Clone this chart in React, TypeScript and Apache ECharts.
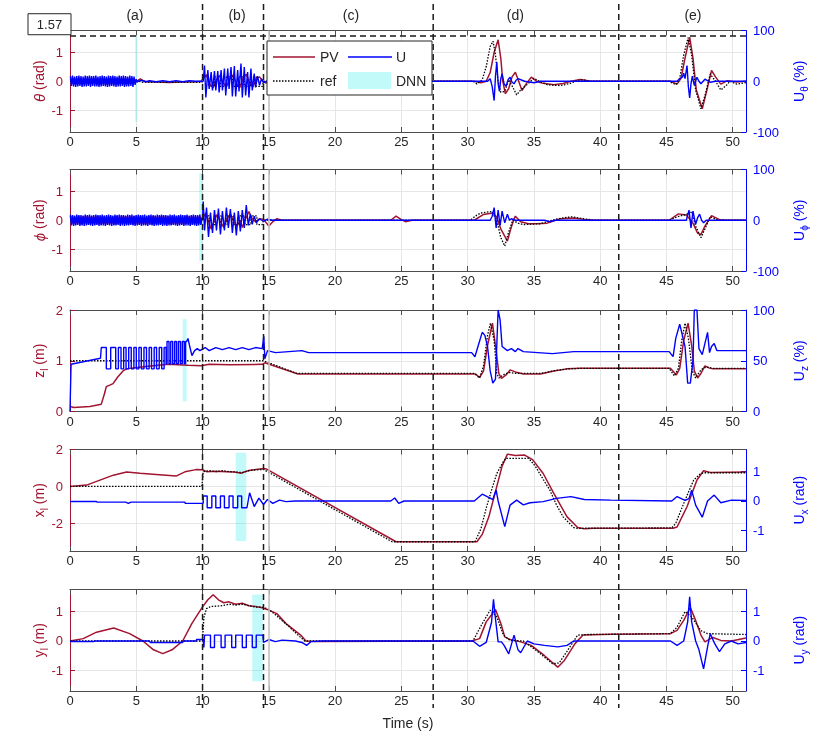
import React, { useEffect, useRef } from 'react';
import * as echarts from 'echarts';

const RED = '#A2142F';
const BLUE = '#0000FF';
const FONT = '"Liberation Sans", Arial, Helvetica, sans-serif';

// ---------- axes / annotations ----------
const xTicks = [0, 5, 10, 15, 20, 25, 30, 35, 40, 45, 50];
const xMax = 51;
const phaseBounds = [10.0, 14.6, 27.4, 41.4];
const phaseLabels = ['(a)', '(b)', '(c)', '(d)', '(e)'];
const phaseLabelT = [4.9, 12.6, 21.2, 33.6, 47.0];
const thetaLimit = 1.57;
const grayLineT = 15;

const leftNames = ['{i|θ} (rad)', '{i|ϕ} (rad)', 'z{s|l} (m)', 'x{s|l} (m)', 'y{s|l} (m)'];
const rightNames = ['U{s|θ} (%)', 'U{s|ϕ} (%)', 'U{s|z} (%)', 'U{s|x} (rad)', 'U{s|y} (rad)'];
const leftMin = [-1.75, -1.75, 0, -3.5, -1.7];
const leftMax = [1.75, 1.75, 2, 2, 1.75];
const leftTicks = [[-1, 0, 1], [-1, 0, 1], [0, 1, 2], [-2, 0, 2], [-1, 0, 1]];
const rightMin = [-100, -100, 0, -1.7, -1.7];
const rightMax = [100, 100, 100, 1.75, 1.75];
const rightTicks = [[-100, 0, 100], [-100, 0, 100], [0, 50, 100], [-1, 0, 1], [-1, 0, 1]];

// DNN windows (per subplot, left-axis units)
const dnnT0 = [4.92, 9.75, 8.5, 12.5, 13.75];
const dnnT1 = [5.08, 10.0, 8.8, 13.3, 14.55];
const dnnLow = [-1.4, -1.4, 0.2, -2.96, -1.37];
const dnnHigh = [1.55, 1.62, 1.82, 1.83, 1.58];

// ---------- theta ----------
const denseStart = 0.03;
const denseStep = 0.08;
const thetaU_dense = [10, -9, 11, -10, 9, -11, 10, -10, 11, -9,
  10, -11, 9, -10, 11, -10, 10, -9, 11, -11,
  10, -9, 10, -10, 11, -10, 9, -11, 10, -10,
  11, -9, 10, -10, 9, -11, 11, -10, 10, -9,
  11, -10, 10, -11, 9, -10, 11, -10, 10, -9,
  11, -11, 10, -10, 9, -10, 11, -9, 10, -11,
  9, -7, 4, -2];
const thetaPV_dense = [0.08, -0.1, 0.12, -0.09, 0.1, -0.12, 0.11, -0.1, 0.12, -0.08,
  0.1, -0.12, 0.09, -0.1, 0.12, -0.11, 0.1, -0.09, 0.12, -0.12,
  0.1, -0.09, 0.11, -0.1, 0.12, -0.1, 0.09, -0.12, 0.11, -0.1,
  0.12, -0.09, 0.1, -0.11, 0.09, -0.12, 0.12, -0.1, 0.1, -0.09,
  0.12, -0.1, 0.11, -0.12, 0.09, -0.1, 0.12, -0.11, 0.1, -0.09,
  0.12, -0.12, 0.1, -0.1, 0.09, -0.1, 0.11, -0.09, 0.1, -0.11,
  0.08, -0.06, 0.04, -0.02];
const thetaPV_rest = [[5.1, 0.02], [5.3, 0.08], [5.5, 0.03], [5.8, -0.02], [6.5, -0.03], [7.5, -0.04], [8.5, -0.03], [9.5, -0.02], [9.9, 0.0],
  [10.05, 0.1], [10.3, 0.22], [10.55, -0.1], [10.8, -0.22], [11.05, 0.05], [11.3, 0.2], [11.55, -0.05], [11.8, -0.2], [12.05, 0.08], [12.3, 0.22], [12.55, -0.08], [12.8, -0.22], [13.05, 0.1], [13.3, 0.24], [13.55, -0.05], [13.8, -0.2], [14.05, 0.1], [14.3, 0.15], [14.55, 0.0], [14.8, -0.06], [15.2, 0.02], [15.6, 0],
  [20, 0.0], [25, 0.0], [30.5, 0], [31.0, -0.05], [31.4, 0.0], [31.7, 0.3], [32.0, 1.0], [32.3, 1.43], [32.5, 0.8], [32.65, 0.0], [32.85, -0.43], [33.1, -0.25], [33.35, 0.15], [33.6, 0.31], [33.85, 0.0], [34.1, -0.32], [34.4, -0.1], [34.8, 0.14], [35.2, 0.0], [35.6, -0.06], [36.5, -0.12], [37.2, -0.08], [37.8, 0.0], [38.5, 0.06], [39.2, 0.01], [40, 0],
  [45.3, 0], [45.8, -0.1], [46.1, 0.1], [46.4, 0.8], [46.75, 1.52], [47.0, 0.8], [47.25, -0.3], [47.7, -0.95], [48.0, -0.4], [48.4, 0.37], [48.7, 0.15], [49.1, -0.1], [49.6, 0.02], [50.3, -0.03], [51, 0]];
const thetaRef = [[0, 0], [5.2, 0], [5.5, -0.04], [9.95, -0.04], [10.05, 0.15], [10.45, 0.15], [10.45, -0.18], [10.9, -0.18], [10.9, 0.15], [11.35, 0.15], [11.35, -0.18], [11.8, -0.18], [11.8, 0.15], [12.25, 0.15], [12.25, -0.18], [12.7, -0.18], [12.7, 0.15], [13.15, 0.15], [13.15, -0.18], [13.6, -0.18], [13.6, 0.15], [14.05, 0.15], [14.05, -0.18], [14.5, -0.18], [14.6, 0],
  [30.4, 0], [30.7, -0.09], [31.1, 0.05], [31.4, 0.5], [31.7, 1.2], [31.92, 1.38], [32.1, 0.9], [32.3, 0.0], [32.5, -0.38], [32.8, -0.35], [33.1, 0.05], [33.4, -0.2], [33.7, -0.47], [34.0, -0.3], [34.4, -0.15], [35.0, 0.1], [35.4, 0.0], [36.0, -0.12], [37.0, -0.15], [37.7, -0.08], [38.3, 0.03], [38.7, 0.05], [39.3, 0],
  [45.2, 0], [45.7, -0.12], [46.0, 0.1], [46.3, 0.9], [46.63, 1.5], [46.9, 0.9], [47.2, -0.3], [47.6, -0.95], [47.9, -0.5], [48.3, 0.25], [48.7, 0.0], [49.1, -0.3], [49.5, -0.15], [49.8, 0.0], [50.3, -0.1], [51, -0.05]];
const thetaU_rest = [[5.15, 0], [5.4, 2], [5.7, -1], [6.0, 1], [6.5, -1], [7.0, 1], [7.5, -1], [8.0, 1], [8.5, -1], [9.0, 1], [9.5, 0], [9.95, 0],
  [10.05, 0], [10.15, 31], [10.25, -32], [10.4, 22], [10.5, -15], [10.65, 18], [10.75, -18], [10.9, 20], [11.0, -18], [11.15, 20], [11.25, -22], [11.4, 22], [11.5, -18], [11.65, 25], [11.75, -28], [11.9, 25], [12.0, -15], [12.15, 28], [12.25, -30], [12.4, 30], [12.5, -30], [12.65, 22], [12.75, -20], [12.9, 35], [13.0, -32], [13.15, 28], [13.25, -28], [13.4, 18], [13.5, -32], [13.65, 25], [13.75, -18], [13.9, 15], [14.0, -12], [14.15, 10], [14.3, -8], [14.45, 5], [14.6, -3], [14.8, 0],
  [20, 0], [31.5, 0], [31.7, 5], [31.85, -10], [32.0, -38], [32.1, 10], [32.2, 38], [32.3, -5], [32.4, -20], [32.5, 5], [32.6, 15], [32.75, -5], [32.9, -10], [33.05, 3], [33.2, 8], [33.35, -2], [33.5, -5], [33.65, 2], [33.8, 5], [34.3, 0], [35, -3], [35.5, 0],
  [45.8, 0], [46.0, 5], [46.2, 8], [46.3, 16], [46.4, 5], [46.55, 31], [46.65, -10], [46.75, -33], [46.85, -5], [46.95, 10], [47.1, -8], [47.3, 8], [47.45, 0], [47.6, -5], [47.9, 4], [48.3, -2], [48.7, 0], [51, 0]];

// ---------- phi ----------
const phiU_dense = [11, -10, 10, -11, 9, -10, 11, -9, 10, -11,
  10, -10, 9, -11, 11, -10, 10, -9, 11, -10,
  9, -11, 10, -10, 11, -9, 10, -11, 10, -10,
  11, -10, 9, -11, 10, -9, 11, -10, 10, -11,
  9, -10, 11, -10, 10, -9, 11, -11, 10, -10,
  10, -11, 9, -10, 11, -10, 10, -9, 11, -10,
  9, -11, 10, -10, 11, -9, 10, -11, 10, -10,
  11, -10, 9, -11, 10, -9, 11, -10, 10, -11,
  9, -10, 11, -10, 10, -9, 11, -11, 10, -10,
  10, -11, 9, -10, 11, -10, 10, -9, 11, -10,
  9, -11, 10, -10, 11, -9, 10, -11, 10, -10,
  11, -10, 9, -11, 10, -9, 11, -10, 10, -11,
  10, -10, 11, -9, 5];
const phiPV_dense = [0.14, -0.13, 0.15, -0.14, 0.12, -0.15, 0.14, -0.12, 0.15, -0.14,
  0.13, -0.15, 0.14, -0.13, 0.15, -0.12, 0.14, -0.15, 0.13, -0.14,
  0.15, -0.13, 0.12, -0.15, 0.14, -0.14, 0.15, -0.12, 0.13, -0.15,
  0.14, -0.13, 0.15, -0.14, 0.12, -0.15, 0.14, -0.13, 0.15, -0.12,
  0.13, -0.15, 0.14, -0.14, 0.15, -0.13, 0.12, -0.15, 0.14, -0.13,
  0.15, -0.12, 0.14, -0.15, 0.13, -0.14, 0.15, -0.13, 0.12, -0.15,
  0.14, -0.14, 0.15, -0.12, 0.13, -0.15, 0.14, -0.13, 0.15, -0.14,
  0.12, -0.15, 0.14, -0.13, 0.15, -0.12, 0.13, -0.15, 0.14, -0.14,
  0.15, -0.13, 0.12, -0.15, 0.14, -0.13, 0.15, -0.12, 0.14, -0.15,
  0.13, -0.14, 0.15, -0.13, 0.12, -0.15, 0.14, -0.14, 0.15, -0.12,
  0.13, -0.15, 0.14, -0.13, 0.15, -0.14, 0.12, -0.15, 0.14, -0.13,
  0.15, -0.12, 0.13, -0.15, 0.14, -0.14, 0.15, -0.13, 0.12, -0.15,
  0.14, -0.13, 0.15, -0.12, 0.05];
const phiPV_rest = [[10.05, 0.1], [10.25, 0.25], [10.5, -0.1], [10.65, -0.3], [10.9, 0.0], [11.1, 0.2], [11.35, -0.05], [11.6, -0.25], [11.85, 0.05], [12.1, 0.22], [12.35, -0.05], [12.6, -0.2], [12.85, 0.0], [13.0, -0.25], [13.25, 0.05], [13.5, 0.3], [13.75, 0.05], [14.0, -0.05], [14.3, 0.05], [14.6, 0.03], [15.0, -0.2], [15.3, -0.05], [15.6, 0.05], [16.0, 0],
  [24.2, 0], [24.6, 0.14], [25.0, 0.02], [25.3, -0.05], [25.8, 0],
  [30.5, 0], [31.2, 0.2], [31.9, 0.25], [32.2, 0.1], [32.5, -0.3], [33.0, -0.72], [33.25, -0.3], [33.5, 0.05], [33.6, 0.14], [34.0, -0.05], [34.6, -0.12], [35.2, -0.12], [36.0, -0.1], [37.0, 0.05], [38.0, 0.08], [38.8, 0.03], [39.5, 0],
  [45.2, 0], [45.9, 0.22], [46.5, 0.18], [47.0, -0.1], [47.35, -0.45], [47.6, -0.49], [47.9, -0.2], [48.4, 0.16], [49.0, 0.02], [49.5, 0], [51, 0]];
const phiRef = [[0, 0], [9.95, 0], [10.05, 0.15], [10.5, 0.15], [10.5, -0.15], [10.95, -0.15], [10.95, 0.15], [11.4, 0.15], [11.4, -0.15], [11.85, -0.15], [11.85, 0.15], [12.3, 0.15], [12.3, -0.15], [12.75, -0.15], [12.75, 0.15], [13.2, 0.15], [13.2, -0.15], [13.65, -0.15], [13.65, 0.15], [14.1, 0.15], [14.1, -0.15], [14.5, -0.15], [14.6, 0],
  [30.2, 0], [30.6, 0.15], [31.0, 0.25], [31.8, 0.3], [32.2, 0.0], [32.5, -0.6], [32.8, -0.89], [33.1, -0.4], [33.4, 0.0], [33.8, -0.1], [34.2, -0.15], [35.5, -0.12], [36.2, -0.02], [36.8, 0.05], [37.8, 0.12], [38.8, 0.05], [39.5, 0],
  [45.2, 0], [45.8, 0.12], [46.5, 0.2], [46.9, 0.3], [47.2, -0.2], [47.6, -0.6], [47.9, -0.3], [48.3, 0.12], [48.8, 0.02], [49.5, 0], [51, 0]];
const phiU_rest = [[10.0, 0], [10.05, 37], [10.15, -20], [10.3, 25], [10.45, -33], [10.6, 15], [10.75, -25], [10.9, 20], [11.05, -20], [11.2, 23], [11.35, -28], [11.5, 18], [11.65, -20], [11.8, 25], [11.95, -15], [12.1, 22], [12.25, -25], [12.4, 15], [12.55, -30], [12.7, 18], [12.85, -22], [13.0, 20], [13.15, -15], [13.3, 30], [13.45, -10], [13.6, 12], [13.75, -8], [13.9, 8], [14.05, -5], [14.3, 3], [14.6, -2], [14.9, 2], [15.3, 0],
  [31.7, 0], [31.85, 8], [32.0, 25], [32.15, -15], [32.3, 20], [32.45, -10], [32.6, 18], [32.8, -5], [33.0, 12], [33.15, 0], [33.3, 3], [33.6, 0], [35.8, 0], [36.2, -3], [36.6, 0],
  [46.5, 0], [46.7, 20], [46.85, -15], [47.0, 18], [47.2, -8], [47.35, 5], [47.5, 12], [47.65, 0], [47.8, -5], [48.0, 0], [51, 0]];

// ---------- z ----------
const zPV = [[0, 0.1], [0.3, 0.08], [1.5, 0.1], [2.36, 0.145], [2.6, 0.35], [2.74, 0.49], [3.0, 0.52], [3.25, 0.55], [3.6, 0.68], [4.0, 0.8], [4.26, 0.84], [4.9, 0.86], [5.9, 0.89], [7.4, 0.93], [8.9, 0.91], [9.9, 0.9], [10.5, 0.93], [12, 0.92], [14.5, 0.93], [14.7, 0.96], [17.2, 0.74],
  [30.6, 0.74], [30.9, 0.67], [31.2, 0.8], [31.5, 1.3], [31.87, 1.74], [32.15, 1.2], [32.35, 0.75], [32.55, 0.65], [32.9, 0.72], [33.2, 0.82], [33.6, 0.78], [34.2, 0.74], [35.5, 0.74], [36.5, 0.8], [37.5, 0.84], [38.5, 0.85],
  [45.3, 0.85], [45.75, 0.72], [46.0, 0.85], [46.3, 1.4], [46.63, 1.74], [46.9, 1.3], [47.1, 0.8], [47.35, 0.66], [47.6, 0.75], [47.9, 0.9], [48.2, 0.86], [48.5, 0.84], [51, 0.84]];
const zRef = [[0, 1], [14.6, 1], [17.1, 0.75], [30.5, 0.75], [30.9, 0.66], [31.2, 0.9], [31.5, 1.5], [31.72, 1.74], [32.0, 1.4], [32.2, 0.75], [32.35, 0.66], [32.8, 0.74], [33.2, 0.77], [33.6, 0.75], [35.5, 0.75], [36.5, 0.8], [37.5, 0.84], [38.5, 0.85],
  [45.2, 0.85], [45.6, 0.7], [45.9, 0.85], [46.15, 1.4], [46.4, 1.74], [46.65, 1.45], [46.95, 0.8], [47.2, 0.66], [47.6, 0.82], [48.0, 0.88], [48.5, 0.85], [51, 0.85]];
const zU = [[0, 0], [0.08, 46.6], [1.0, 49], [2.3, 52.5], [2.36, 63], [2.74, 63], [2.74, 42], [3.07, 42], [3.07, 63], [3.45, 63], [3.45, 42], [3.65, 42], [3.65, 63], [3.85, 63], [3.85, 42], [4.05, 42], [4.05, 63], [4.23, 63], [4.23, 42], [4.43, 42], [4.43, 63], [4.62, 63], [4.62, 42], [4.82, 42], [4.82, 63], [5.0, 63], [5.0, 42], [5.2, 42], [5.2, 63], [5.38, 63], [5.38, 42], [5.58, 42], [5.58, 63], [5.77, 63], [5.77, 42], [5.97, 42], [5.97, 63], [6.15, 63], [6.15, 42], [6.35, 42], [6.35, 63], [6.53, 63], [6.53, 42], [6.73, 42], [6.73, 63], [6.92, 63], [6.92, 42], [7.1, 42], [7.1, 63], [7.25, 63], [7.25, 47],
  [7.32, 47], [7.32, 69], [7.47, 69], [7.47, 47], [7.6, 47], [7.6, 69], [7.75, 69], [7.75, 47], [7.9, 47], [7.9, 69], [8.04, 69], [8.04, 47], [8.18, 47], [8.18, 69], [8.33, 69], [8.33, 47], [8.47, 47], [8.47, 69], [8.62, 69], [8.62, 47], [8.72, 47], [8.72, 69],
  [8.8, 69], [8.9, 72], [9.0, 66], [9.2, 55], [9.4, 60], [9.6, 62], [9.8, 60], [10.2, 63], [10.5, 60], [11, 63], [11.5, 61], [12, 63], [12.5, 61], [13, 63], [13.5, 61], [14, 63], [14.5, 62], [14.62, 74], [14.7, 52], [14.9, 60], [15.5, 58], [17.5, 60], [18, 58], [20, 58], [25, 58],
  [30.3, 58], [30.55, 54], [30.8, 65], [31.1, 78], [31.3, 75], [31.5, 64], [31.7, 40], [31.9, 28], [32.1, 32], [32.3, 100], [32.45, 90], [32.6, 64], [33, 60], [33.3, 62], [33.6, 59], [33.8, 62], [34.2, 59], [36.4, 57], [38, 59],
  [45.2, 59], [45.5, 54], [45.7, 72], [46.0, 86], [46.4, 64], [46.6, 28], [46.8, 28], [47.0, 50], [47.1, 100], [47.3, 100], [47.45, 62], [47.7, 56], [48.1, 78], [48.25, 58], [48.4, 64], [48.6, 67], [48.8, 60], [49.5, 60], [51, 60]];

// ---------- x ----------
const xPV = [[0, 0], [1.25, 0.07], [2.26, 0.34], [3.27, 0.61], [4.27, 0.78], [5.28, 0.71], [6.5, 0.65], [8.0, 0.56], [8.67, 0.79], [9.5, 0.91], [10.0, 0.9], [10.3, 0.8], [11.0, 0.82], [11.8, 0.8], [12.4, 0.78], [12.9, 0.71], [13.3, 0.82], [13.6, 0.88], [14.6, 0.97], [14.8, 0.95], [24.6, -3.0],
  [30.7, -3.0], [31.1, -2.6], [31.6, -1.65], [32.2, 0.0], [32.6, 1.1], [33.0, 1.75], [33.6, 1.67], [34.3, 1.7], [34.9, 1.45], [35.7, 0.7], [36.5, -0.38], [37.5, -1.65], [38.3, -2.23], [38.8, -2.3], [39.5, -2.27],
  [45.5, -2.27], [45.8, -2.2], [46.55, -1.1], [47.3, 0.35], [47.8, 0.85], [48.3, 0.76], [51, 0.78]];
const xRef = [[0, 0], [9.95, 0], [10.05, 0.8], [10.5, 0.85], [11, 0.8], [11.5, 0.85], [12, 0.8], [12.5, 0.78], [13, 0.75], [13.5, 0.85], [14, 0.9], [14.6, 0.92], [24.3, -3.0],
  [30.55, -3.0], [31.0, -2.3], [31.43, -1.1], [31.8, -0.2], [32.2, 0.7], [32.7, 1.35], [32.9, 1.52], [34.6, 1.52], [35.1, 1.1], [35.6, 0.5], [36.2, -0.2], [36.7, -1.0], [37.2, -1.65], [38.0, -2.23], [38.3, -2.27],
  [45.4, -2.25], [45.7, -2.0], [46.3, -0.92], [47.05, 0.34], [47.5, 0.65], [47.8, 0.74], [51, 0.74]];
const xU = [[0, -0.02], [2.0, -0.02], [2.05, -0.04], [4.2, -0.04], [4.4, -0.08], [4.6, -0.04], [8.65, -0.04], [8.7, -0.08], [10.05, -0.08],
  [10.05, 0.17], [10.35, 0.17], [10.35, -0.23], [10.7, -0.23], [10.7, 0.17], [11.0, 0.17], [11.0, -0.23], [11.35, -0.23], [11.35, 0.17], [11.65, 0.17], [11.65, -0.23], [12.0, -0.23], [12.0, 0.17], [12.3, 0.17], [12.3, -0.23], [12.65, -0.23], [12.65, 0.17], [12.95, 0.17], [12.95, -0.23], [13.35, -0.23],
  [13.55, 0.28], [13.9, -0.19], [14.25, 0.1], [14.6, -0.12], [14.9, 0.05], [15.3, -0.08], [15.8, 0.03], [16.3, -0.02], [17, 0], [24.2, 0], [24.5, 0.1], [24.8, -0.08], [25.2, 0],
  [30.5, 0], [31.1, 0.23], [31.7, 0.1], [31.9, 0.05], [32.15, 0.37], [32.3, 0.0], [32.8, -0.87], [33.2, -0.14], [33.7, 0.03], [34.2, -0.13], [34.7, -0.06], [35.7, -0.02], [36.7, 0.09], [37.8, 0.15], [38.8, 0.05], [40.8, 0.03],
  [45.4, 0.0], [45.8, 0.15], [46.4, 0.02], [46.7, 0.08], [46.9, 0.37], [47.2, -0.14], [47.7, -0.55], [48.1, 0.0], [48.6, 0.2], [49.1, -0.06], [49.9, 0.03], [51, 0.02]];

// ---------- y ----------
const yPV = [[0, 0], [1, 0.08], [2, 0.3], [3.3, 0.44], [4.5, 0.25], [5.5, 0.0], [6.3, -0.3], [7.0, -0.43], [7.7, -0.3], [8.5, 0.0], [9.2, 0.6], [10.0, 1.16], [10.4, 1.4], [10.8, 1.57], [11.2, 1.4], [11.6, 1.3], [12.0, 1.33], [12.5, 1.25], [13.0, 1.28], [13.5, 1.2], [14.0, 1.17], [14.5, 1.13], [15.0, 1.05], [15.6, 0.93], [16.3, 0.59], [17.4, 0.2], [17.8, 0.0], [18.5, -0.02],
  [30.3, 0], [30.9, 0.08], [31.4, 0.65], [32.1, 1.07], [32.5, 0.6], [32.8, 0.14], [33.2, 0.05], [34.0, -0.03], [34.8, -0.15], [35.8, -0.5], [36.8, -0.89], [37.3, -0.66], [38.1, -0.09], [38.7, 0.2], [40.8, 0.23],
  [45.3, 0.25], [45.8, 0.36], [46.3, 0.7], [46.8, 1.14], [47.2, 0.7], [47.6, 0.2], [47.9, -0.03], [48.5, 0.12], [49.1, 0.02], [49.9, 0.0], [51, 0.1]];
const yRef = [[0, 0], [10.0, 0], [10.1, 0.8], [10.3, 1.1], [10.6, 1.17], [11.5, 1.2], [12, 1.25], [12.5, 1.22], [13, 1.25], [13.5, 1.2], [14, 1.15], [14.5, 1.15], [15.0, 1.08], [15.6, 0.85], [16.5, 0.5], [17.2, 0.2], [17.7, 0.0],
  [30.4, 0], [31.1, 0.59], [31.7, 1.05], [32.2, 0.82], [32.7, 0.2], [33.2, 0.02], [34.2, 0.0], [35.2, -0.33], [36.4, -0.77], [36.9, -0.75], [37.5, -0.35], [38.3, 0.2], [39.1, 0.22],
  [45.3, 0.25], [45.8, 0.47], [46.4, 1.0], [46.9, 0.82], [47.6, 0.35], [48.1, 0.25], [51, 0.22]];
const yU = [[0, -0.02], [1.8, -0.02], [1.85, 0.0], [6.0, 0.0], [6.05, -0.05], [8.5, -0.05], [8.55, 0.0], [9.5, 0.0], [9.55, 0.05], [10.05, 0.05], [10.1, -0.22], [10.15, -0.22],
  [10.15, 0.2], [10.6, 0.2], [10.6, -0.22], [10.9, -0.22], [10.9, 0.2], [11.4, 0.2], [11.4, -0.22], [11.7, -0.22], [11.7, 0.2], [12.2, 0.2], [12.2, -0.22], [12.5, -0.22], [12.5, 0.2], [13.0, 0.2], [13.0, -0.22], [13.3, -0.22], [13.3, 0.2], [13.75, 0.2], [13.75, -0.22], [14.05, -0.22], [14.05, 0.2], [14.55, 0.2],
  [14.6, -0.05], [15, 0.05], [15.5, -0.02], [16, 0.03], [17, 0], [17.5, -0.05], [17.85, -0.15], [18.2, -0.02], [19, 0],
  [30.4, 0], [30.9, -0.18], [31.4, -0.05], [31.8, 0.63], [31.95, 1.42], [32.1, 0.75], [32.3, -0.03], [32.55, -0.03], [32.75, -0.15], [33.1, -0.44], [33.5, 0.2], [33.8, -0.3], [34.0, -0.4], [34.5, 0.0], [35.0, -0.1], [35.8, -0.15], [36.8, -0.2], [37.5, -0.15], [38.0, 0.0], [39.8, 0.0],
  [45.3, 0], [45.8, -0.15], [46.3, 0.0], [46.6, 0.65], [46.75, 1.5], [46.9, 0.65], [47.2, 0.0], [47.45, -0.3], [47.8, -0.95], [48.1, -0.2], [48.3, 0.25], [48.65, -0.1], [49.0, -0.36], [49.4, -0.1], [49.9, 0.0], [50.4, -0.1], [51, -0.05]];

// ---------- helpers ----------
function densePairs(values: number[]) {
  return values.map((v, i) => [+(denseStart + i * denseStep).toFixed(3), v]);
}

const pvData = [
  densePairs(thetaPV_dense).concat(thetaPV_rest),
  densePairs(phiPV_dense).concat(phiPV_rest),
  zPV, xPV, yPV,
];
const refData = [thetaRef, phiRef, zRef, xRef, yRef];
const uData = [
  densePairs(thetaU_dense).concat(thetaU_rest),
  densePairs(phiU_dense).concat(phiU_rest),
  zU, xU, yU,
];

const gridTops = [30.5, 169.5, 310, 449.5, 589.5];
const gridH = 101.5;

function buildOption() {
  const grid: any[] = [];
  const xAxis: any[] = [];
  const yAxis: any[] = [];
  const series: any[] = [];
  for (let i = 0; i < 5; i++) {
    grid.push({ left: 70, right: 84, top: gridTops[i], height: gridH });
    xAxis.push({
      type: 'value', gridIndex: i, position: 'bottom', min: 0, max: xMax, interval: 5,
      axisLine: { show: true, onZero: false, lineStyle: { color: '#4d4d4d', width: 1 } },
      axisTick: { show: true, inside: true, length: 5, customValues: xTicks, lineStyle: { color: '#4d4d4d' } },
      axisLabel: { show: true, customValues: xTicks, color: '#262626', fontSize: 13, margin: 3, fontFamily: FONT },
      splitLine: { show: true, lineStyle: { color: '#e6e6e6', width: 1 } },
      name: i === 4 ? 'Time (s)' : '', nameLocation: 'middle', nameGap: 25, nameMoveOverlap: false,
      nameTextStyle: { fontSize: 14, color: '#262626', fontFamily: FONT },
    });
    xAxis.push({
      type: 'value', gridIndex: i, position: 'top', min: 0, max: xMax, interval: 5,
      axisLine: { show: true, onZero: false, lineStyle: { color: '#4d4d4d', width: 1 } },
      axisTick: { show: true, inside: true, length: 5, customValues: xTicks, lineStyle: { color: '#4d4d4d' } },
      axisLabel: { show: false },
      splitLine: { show: false },
    });
    const nameStyle = (color: string) => ({
      fontSize: 14, color, fontFamily: FONT, lineHeight: 20,
      rich: {
        s: { fontSize: 10, lineHeight: 10, verticalAlign: 'bottom', color, fontFamily: FONT },
        i: { fontSize: 15, lineHeight: 20, fontStyle: 'italic', color, fontFamily: FONT },
      },
    });
    yAxis.push({
      type: 'value', gridIndex: i, position: 'left', min: leftMin[i], max: leftMax[i],
      axisLine: { show: true, onZero: false, lineStyle: { color: RED, width: 1 } },
      axisTick: { show: true, inside: true, length: 5, customValues: leftTicks[i], lineStyle: { color: RED } },
      axisLabel: { show: true, customValues: leftTicks[i], color: RED, fontSize: 13, margin: 7, fontFamily: FONT },
      splitLine: { show: true, lineStyle: { color: '#e6e6e6', width: 1 } },
      name: leftNames[i], nameLocation: 'middle', nameRotate: 90, nameGap: 21, nameMoveOverlap: false,
      nameTextStyle: nameStyle(RED),
    });
    yAxis.push({
      type: 'value', gridIndex: i, position: 'right', min: rightMin[i], max: rightMax[i],
      axisLine: { show: true, onZero: false, lineStyle: { color: BLUE, width: 1 } },
      axisTick: { show: true, inside: true, length: 5, customValues: rightTicks[i], lineStyle: { color: BLUE } },
      axisLabel: { show: true, customValues: rightTicks[i], color: BLUE, fontSize: 13, margin: 7, fontFamily: FONT },
      splitLine: { show: false },
      name: rightNames[i], nameLocation: 'middle', nameRotate: 90, nameGap: 43, nameMoveOverlap: false,
      nameTextStyle: nameStyle(BLUE),
    });

    const markLineData: any[] = [{ xAxis: grayLineT, lineStyle: { color: '#c4c4c4', width: 1.6, type: 'solid' } }];
    if (i === 0) {
      markLineData.push({ yAxis: thetaLimit, lineStyle: { color: '#1a1a1a', width: 1.5, type: [6, 4] } });
    }
    series.push({
      name: 'PV', type: 'line', xAxisIndex: 2 * i, yAxisIndex: 2 * i, data: pvData[i],
      showSymbol: false, symbol: 'none', lineStyle: { color: RED, width: 1.5 }, z: 2,
      markLine: { silent: true, symbol: ['none', 'none'], label: { show: false }, data: markLineData },
    });
    series.push({
      name: 'ref', type: 'line', xAxisIndex: 2 * i, yAxisIndex: 2 * i, data: refData[i],
      showSymbol: false, symbol: 'none', lineStyle: { color: '#000', width: 1.3, type: [1.5, 1.5] }, z: 3,
    });
    series.push({
      name: 'U', type: 'line', xAxisIndex: 2 * i, yAxisIndex: 2 * i + 1, data: uData[i],
      showSymbol: false, symbol: 'none', lineStyle: { color: BLUE, width: 1.4 }, z: 4,
    });
    series.push({
      name: 'DNN', type: 'line', xAxisIndex: 2 * i, yAxisIndex: 2 * i, data: [[dnnT0[i], dnnLow[i]]],
      showSymbol: false, symbol: 'none', lineStyle: { opacity: 0 }, z: 5,
      markArea: {
        silent: true,
        itemStyle: { color: 'rgba(0, 235, 235, 0.24)' },
        data: [[{ coord: [dnnT0[i], dnnLow[i]] }, { coord: [dnnT1[i], dnnHigh[i]] }]],
      },
    });
  }
  return {
    animation: false,
    textStyle: { fontFamily: FONT },
    grid, xAxis, yAxis, series,
  };
}

export default function App() {
  const ref = useRef<HTMLDivElement>(null);
  useEffect(() => {
    if (!ref.current) return;
    const chart = echarts.init(ref.current, undefined, { renderer: 'svg' });
    chart.setOption(buildOption() as any);
    const px = (t: number) => chart.convertToPixel({ xAxisIndex: 0 } as any, t) as number;
    const limY = chart.convertToPixel({ yAxisIndex: 0 } as any, thetaLimit) as number;
    const gfx: any[] = [];
    phaseBounds.forEach((t) => {
      const x = px(t);
      gfx.push({ type: 'line', silent: true, z: 100, shape: { x1: x, y1: 4, x2: x, y2: 708 },
        style: { stroke: '#1a1a1a', lineWidth: 1.5, lineDash: [6, 4] } });
    });
    phaseLabels.forEach((s, k) => {
      gfx.push({ type: 'text', z: 100, x: px(phaseLabelT[k]), y: 15,
        style: { text: s, fill: '#262626', fontSize: 14, fontFamily: FONT, align: 'center', verticalAlign: 'middle', textAlign: 'center', textVerticalAlign: 'middle' } });
    });
    // 1.57 label box
    gfx.push({ type: 'rect', z: 100, shape: { x: 28, y: limY - 22, width: 43, height: 21 },
      style: { fill: '#fff', stroke: '#262626', lineWidth: 1 } });
    gfx.push({ type: 'text', z: 101, x: 49.5, y: limY - 11.5,
      style: { text: String(thetaLimit), fill: '#262626', fontSize: 13, fontFamily: FONT, align: 'center', verticalAlign: 'middle', textAlign: 'center', textVerticalAlign: 'middle' } });
    // legend
    const lx = 267, ly = 41;
    gfx.push({ type: 'rect', z: 110, shape: { x: lx, y: ly, width: 165, height: 54 },
      style: { fill: '#fff', stroke: '#262626', lineWidth: 1 } });
    const legText = (t: string, x: number, y: number) => ({ type: 'text', z: 111, x, y,
      style: { text: t, fill: '#262626', fontSize: 14, fontFamily: FONT, align: 'left', verticalAlign: 'middle', textAlign: 'left', textVerticalAlign: 'middle' } });
    gfx.push({ type: 'line', z: 111, shape: { x1: lx + 6, y1: ly + 16, x2: lx + 48, y2: ly + 16 }, style: { stroke: RED, lineWidth: 1.5 } });
    gfx.push(legText('PV', lx + 53, ly + 16));
    gfx.push({ type: 'line', z: 111, shape: { x1: lx + 81, y1: ly + 16, x2: lx + 125, y2: ly + 16 }, style: { stroke: BLUE, lineWidth: 1.5 } });
    gfx.push(legText('U', lx + 129, ly + 16));
    gfx.push({ type: 'line', z: 111, shape: { x1: lx + 6, y1: ly + 40, x2: lx + 48, y2: ly + 40 }, style: { stroke: '#000', lineWidth: 1.3, lineDash: [1.5, 1.5] } });
    gfx.push(legText('ref', lx + 53, ly + 40));
    gfx.push({ type: 'rect', z: 111, shape: { x: lx + 81, y: ly + 31, width: 43, height: 17 }, style: { fill: 'rgba(0, 235, 235, 0.24)' } });
    gfx.push(legText('DNN', lx + 129, ly + 40));
    chart.setOption({ graphic: gfx });
    return () => chart.dispose();
  }, []);
  return <div ref={ref} style={{ position: 'fixed', left: 0, top: 0, width: 830, height: 747 }} />;
}
